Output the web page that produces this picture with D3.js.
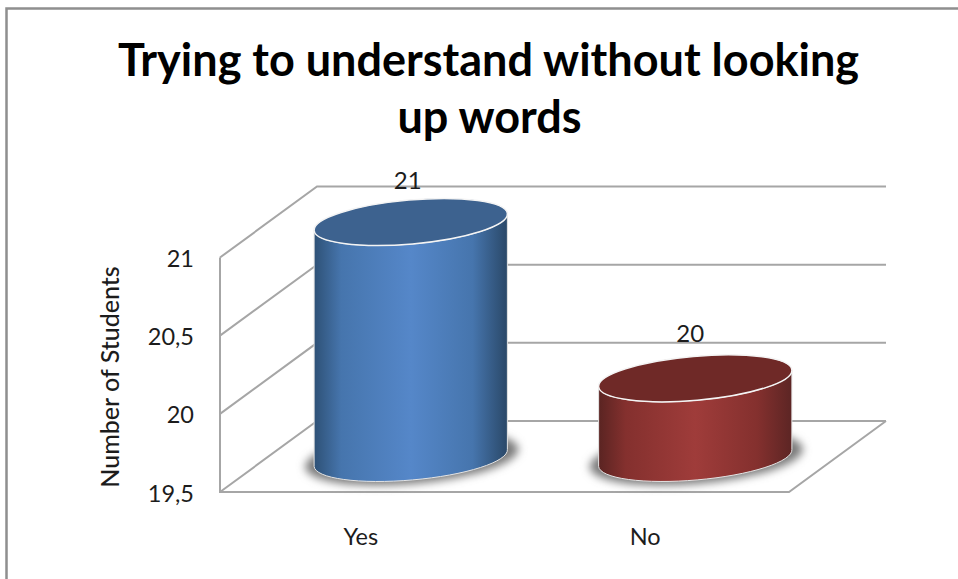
<!DOCTYPE html>
<html><head><meta charset="utf-8"><style>html,body{margin:0;background:#fff}svg{display:block}text{font-family:Lato,"Open Sans",sans-serif;fill:#1c1c1c}</style>
<script src="https://cdn.jsdelivr.net/npm/d3@7/dist/d3.min.js"></script></head><body><script>
const categories = ["Yes", "No"];
const values = [21, 20];
const yTicks = [19.5, 20, 20.5, 21];
const titleLines = ["Trying to understand without looking", "up words"];
const yTitle = "Number of Students";
const palettes = [
  {edgeL:"#2e5176",mid:"#5587c9",edgeR:"#2a4868",top:"#3d628f",stop25:"#4675ad"},
  {edgeL:"#5a2422",mid:"#9f3c3a",edgeR:"#5c2524",top:"#6f2927",stop25:"#84302e"}
];
const W=958,H=579;
const svg=d3.select("body").append("svg").attr("width",W).attr("height",H);
const defs=svg.append("defs");
defs.append("filter").attr("id","blur").attr("x","-20%").attr("y","-30%").attr("width","140%").attr("height","160%")
  .append("feGaussianBlur").attr("stdDeviation",4);
palettes.forEach((p,i)=>{
  const g=defs.append("linearGradient").attr("id","g"+i);
  [[0,p.edgeL],[.14,p.stop25],[.5,p.mid],[.82,p.stop25],[1,p.edgeR]].forEach(([o,c])=>g.append("stop").attr("offset",o).attr("stop-color",c));
});
// frame
svg.append("path").attr("d",`M6.5,${H}V8.5H${W}`).attr("fill","none").attr("stroke","#8f8f8f").attr("stroke-width",2.5);

const x=d3.scaleBand().domain(categories).range([220,789]);
const y=d3.scaleLinear().domain([19.5,21]).range([492,257.5]);
const depth={x:97,y:-71};
const grid="#a6a6a6";
const walls=svg.append("g").attr("fill","none").attr("stroke",grid).attr("stroke-width",2);
yTicks.forEach(t=>{
  walls.append("path").attr("d",`M${x.range()[0]},${y(t)}l${depth.x},${depth.y}H${x.range()[1]+depth.x}`);
});
walls.append("path").attr("d",`M${x.range()[0]},${y(21)}V${y(19.5)}H${x.range()[1]}l${depth.x},${depth.y}`);

// axes
const yAxis=svg.append("g").attr("transform","translate(194,1.5)").call(d3.axisLeft(y).tickValues(yTicks).tickSize(0).tickPadding(0).tickFormat(d=>String(d).replace(".",",")));
yAxis.select(".domain").remove();
yAxis.selectAll("text").attr("font-size",23.5);
const xAxis=svg.append("g").attr("transform","translate(-1.5,528)").call(d3.axisBottom(x).tickSize(0).tickPadding(0));
xAxis.select(".domain").remove();
xAxis.selectAll("text").attr("font-size",23.5);

// cylinders
const rx=97,ry=22,rot=-5,rad=rot*Math.PI/180;
const ex=rx*Math.cos(rad),ey=rx*Math.sin(rad);
categories.forEach((c,i)=>{
  const cx=x(c)+x.bandwidth()/2+depth.x/2, base=y(19.5)+depth.y/2+1.5, top=y(values[i])+depth.y/2;
  const g=svg.append("g");
  g.append("ellipse").attr("cx",cx+1).attr("cy",base).attr("rx",rx+10).attr("ry",ry+4)
    .attr("transform",`rotate(${rot} ${cx} ${base})`).attr("fill","#7a7a7a").attr("filter","url(#blur)");
  const lx=cx-ex, ly=-ey, rxp=cx+ex, ryp=ey;
  g.append("path").attr("d",`M${lx},${top+ly}L${lx},${base+ly}A${rx},${ry} ${rot} 0 0 ${rxp},${base+ryp}L${rxp},${top+ryp}A${rx},${ry} ${rot} 0 1 ${lx},${top+ly}Z`)
    .attr("fill",`url(#g${i})`).attr("stroke","#e4e4e4").attr("stroke-width",1);
  g.append("ellipse").attr("cx",cx).attr("cy",top).attr("rx",rx).attr("ry",ry)
    .attr("transform",`rotate(${rot} ${cx} ${top})`).attr("fill",palettes[i].top).attr("stroke","#f4f4f4").attr("stroke-width",1.5);
  g.append("text").attr("x",cx-(i?5:3)).attr("y",top-(i?36:33)).attr("text-anchor","middle").attr("font-size",24).text(values[i]);
});

// titles
svg.append("g").selectAll("text").data(titleLines).join("text")
  .attr("x",(d,i)=>i?489.5:488.5).attr("y",(d,i)=>76+i*57).attr("text-anchor","middle")
  .attr("font-size",45).attr("font-weight",700).style("fill","#000").text(d=>d);
svg.append("text").attr("transform","translate(119,377) rotate(-90)").attr("text-anchor","middle").attr("font-size",25).attr("font-weight",500).text(yTitle);
</script></body></html>
